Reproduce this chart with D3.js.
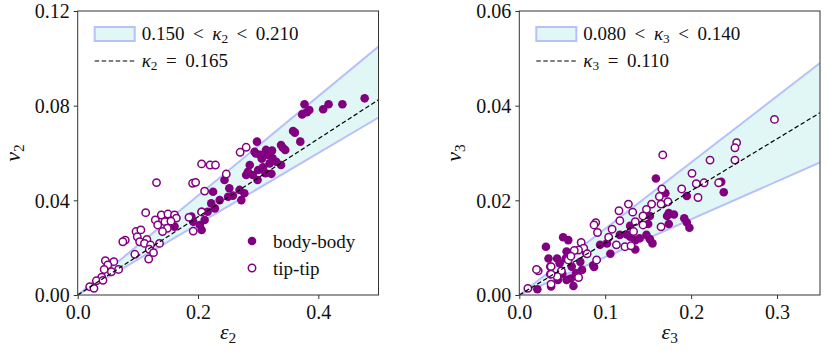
<!DOCTYPE html>
<html>
<head>
<meta charset="utf-8">
<script src="https://cdn.jsdelivr.net/npm/d3@7"></script>
<style>
  body { margin: 0; background: #fff; }
  text { font-family: "Liberation Serif", "DejaVu Serif", serif; fill: #111; }
</style>
</head>
<body>
<script>
const width = 830, height = 351;

// ---- data ----
const bodyBody2 = [
  [0.477,0.0831],[0.440,0.0806],[0.417,0.0806],[0.408,0.0785],[0.377,0.0806],[0.385,0.0782],[0.373,0.0763],[0.381,0.0772],
  [0.358,0.0693],[0.361,0.0686],[0.370,0.0648],[0.338,0.0634],[0.345,0.0613],[0.341,0.0622],
  [0.298,0.0648],[0.296,0.0598],[0.313,0.0613],[0.323,0.0610],[0.294,0.0605],[0.303,0.0592],[0.316,0.0592],[0.324,0.0578],
  [0.306,0.0576],[0.319,0.0556],[0.330,0.0563],[0.338,0.0549],[0.286,0.0549],[0.308,0.0540],[0.300,0.0528],[0.280,0.0507],
  [0.291,0.0507],[0.312,0.0515],[0.322,0.0512],[0.299,0.0486],[0.283,0.0521],
  [0.244,0.0486],[0.252,0.0451],[0.269,0.0444],[0.277,0.0430],[0.272,0.0401],[0.225,0.0436],[0.236,0.0401],[0.250,0.0415],
  [0.222,0.0387],[0.228,0.0366],[0.216,0.0352],[0.206,0.0352],[0.211,0.0317],[0.203,0.0296],[0.206,0.0275],[0.189,0.0331],
  [0.192,0.0310],[0.161,0.0289],[0.258,0.0420]
];
const tipTip2 = [
  [0.280,0.0624],[0.270,0.0603],[0.247,0.0511],[0.206,0.0554],[0.220,0.0549],[0.229,0.0549],[0.131,0.0475],[0.191,0.0472],
  [0.196,0.0476],[0.211,0.0439],[0.206,0.0351],[0.185,0.0328],[0.192,0.0270],
  [0.113,0.0348],[0.139,0.0338],[0.150,0.0342],[0.161,0.0338],[0.164,0.0325],[0.129,0.0317],[0.145,0.0310],[0.155,0.0312],
  [0.133,0.0296],[0.149,0.0282],[0.141,0.0268],[0.097,0.0268],[0.105,0.0275],[0.099,0.0246],[0.079,0.0232],[0.075,0.0225],
  [0.103,0.0225],[0.115,0.0235],[0.111,0.0218],[0.121,0.0211],[0.119,0.0193],[0.126,0.0179],[0.095,0.0172],[0.118,0.0152],
  [0.136,0.0218],[0.046,0.0145],[0.060,0.0141],[0.050,0.0127],[0.068,0.0108],[0.044,0.0108],[0.056,0.0098],[0.040,0.0075],
  [0.031,0.0060],[0.042,0.0062],[0.020,0.0035],[0.027,0.0028]
];
const bodyBody3 = [
  [0.159,0.0246],[0.170,0.0215],[0.238,0.0217],[0.235,0.0239],[0.195,0.0209],[0.192,0.0162],[0.195,0.0153],[0.198,0.0142],
  [0.180,0.0170],[0.174,0.0173],[0.174,0.0150],[0.152,0.0167],[0.150,0.0150],[0.148,0.0127],[0.152,0.0118],[0.155,0.0109],
  [0.135,0.0116],[0.135,0.0096],[0.129,0.0146],[0.125,0.0128],[0.129,0.0123],[0.117,0.0127],[0.106,0.0087],[0.102,0.0109],
  [0.094,0.0106],[0.086,0.0063],[0.087,0.0059],[0.078,0.0088],[0.071,0.0070],[0.073,0.0053],[0.066,0.0046],[0.063,0.0019],
  [0.057,0.0116],[0.051,0.0122],[0.055,0.0092],[0.054,0.0077],[0.044,0.0077],[0.034,0.0077],[0.031,0.0102],[0.047,0.0067],
  [0.036,0.0044],[0.045,0.0032],[0.055,0.0032],[0.037,0.0018],[0.021,0.0012],[0.061,0.0060],[0.036,0.0060],[0.169,0.0216],
  [0.172,0.0167],[0.140,0.0120],[0.060,0.0035],[0.050,0.0045]
];
const tipTip3 = [
  [0.297,0.0371],[0.253,0.0322],[0.251,0.0311],[0.251,0.0285],[0.222,0.0285],[0.167,0.0296],[0.201,0.0257],[0.206,0.0235],
  [0.215,0.0237],[0.232,0.0237],[0.208,0.0206],[0.189,0.0224],[0.166,0.0224],[0.163,0.0208],[0.165,0.0192],[0.173,0.0197],
  [0.154,0.0192],[0.148,0.0181],[0.127,0.0192],[0.116,0.0178],[0.132,0.0175],[0.117,0.0157],[0.135,0.0155],[0.144,0.0167],
  [0.144,0.0148],[0.165,0.0144],[0.133,0.0134],[0.108,0.0139],[0.089,0.0153],[0.091,0.0132],[0.087,0.0148],[0.104,0.0122],
  [0.113,0.0106],[0.123,0.0102],[0.130,0.0104],[0.072,0.0111],[0.075,0.0099],[0.069,0.0095],[0.064,0.0094],[0.090,0.0074],
  [0.057,0.0074],[0.060,0.0082],[0.079,0.0087],[0.037,0.0060],[0.049,0.0051],[0.044,0.0039],[0.069,0.0037],[0.037,0.0023],
  [0.037,0.0044],[0.022,0.0051],[0.020,0.0054],[0.010,0.0014]
];

const kappa2 = [0.150, 0.165, 0.210];   // low, fit, high
const kappa3 = [0.080, 0.110, 0.140];

const xTicks2 = [0, 0.2, 0.4], yTicks2 = [0, 0.04, 0.08, 0.12];
const xTicks3 = [0, 0.1, 0.2, 0.3], yTicks3 = [0, 0.02, 0.04, 0.06];

const purple = "#800080";
const bandFill = "#e0f7f6";
const bandEdge = "#b8c0fa";
const gap = "\u00a0\u2009";

const svg = d3.select("body").append("svg")
  .attr("width", width).attr("height", height);

function sub(sel, main, idx, italic) {
  sel.append("tspan").attr("font-style", italic ? "italic" : null).text(main);
  sel.append("tspan").attr("font-size", "0.7em").attr("dy", "0.25em").text(idx);
}

function panel(o) {
  const x = d3.scaleLinear().domain(o.xDomain).range([o.left, o.right]);
  const y = d3.scaleLinear().domain(o.yDomain).range([295, 11]);
  const g = svg.append("g");
  const clipId = "clip" + o.n;
  g.append("clipPath").attr("id", clipId).append("rect")
    .attr("x", o.left).attr("y", 11).attr("width", o.right - o.left).attr("height", 284);
  const plot = g.append("g").attr("clip-path", `url(#${clipId})`);

  const xs = [0, o.xDomain[1]];
  const k = o.kappa;
  plot.append("path")
    .attr("d", d3.area().x(d => x(d)).y0(d => y(k[0] * d)).y1(d => y(k[2] * d))(xs))
    .attr("fill", bandFill);
  [k[0], k[2]].forEach(kk => {
    plot.append("path")
      .attr("d", d3.line().x(d => x(d)).y(d => y(kk * d))(xs))
      .attr("fill", "none").attr("stroke", bandEdge).attr("stroke-width", 2);
  });

  plot.selectAll("circle.bb").data(o.bb).join("circle")
    .attr("class", "bb").attr("cx", d => x(d[0])).attr("cy", d => y(d[1]))
    .attr("r", 4.3).attr("fill", purple);
  plot.selectAll("circle.tt").data(o.tt).join("circle")
    .attr("class", "tt").attr("cx", d => x(d[0])).attr("cy", d => y(d[1]))
    .attr("r", 3.7).attr("fill", "#fff").attr("stroke", purple).attr("stroke-width", 1.5);

  plot.append("path")
    .attr("d", d3.line().x(d => x(d)).y(d => y(k[1] * d))(xs))
    .attr("fill", "none").attr("stroke", "#000").attr("stroke-width", 1.2)
    .attr("stroke-dasharray", "4.5,2.5");

  // axes
  const xa = g.append("g").attr("transform", "translate(0,295)")
    .call(d3.axisBottom(x).tickValues(o.xTicks).tickFormat(d3.format(".1f")).tickSize(4).tickPadding(4));
  const ya = g.append("g").attr("transform", `translate(${o.left},0)`)
    .call(d3.axisLeft(y).tickValues(o.yTicks).tickFormat(d3.format(".2f")).tickSize(4).tickPadding(4));
  [xa, ya].forEach(a => {
    a.select(".domain").remove();
    a.selectAll("line").attr("stroke", "#333").attr("stroke-width", 1);
    a.selectAll("text").attr("font-size", 20).attr("font-family", "Liberation Serif").attr("fill", "#111");
  });
  ya.selectAll("text").attr("dy", "0.34em");
  xa.selectAll("text").attr("dy", "0.8em");
  g.append("rect").attr("x", o.left).attr("y", 11)
    .attr("width", o.right - o.left).attr("height", 284)
    .attr("fill", "none").attr("stroke", "#333").attr("stroke-width", 1);

  // axis labels
  const xl = g.append("text").attr("x", (o.left + o.right) / 2).attr("y", 339)
    .attr("text-anchor", "middle").attr("font-size", 22);
  sub(xl, "ε", o.n, true);
  const yl = g.append("text")
    .attr("transform", `translate(${o.left - 58},153) rotate(-90)`)
    .attr("text-anchor", "middle").attr("font-size", 22);
  sub(yl, "v", o.n, true);

  // band/line legend
  const lx = o.left + 17;
  g.append("rect").attr("x", lx).attr("y", 27).attr("width", 40).attr("height", 14)
    .attr("fill", bandFill).attr("stroke", bandEdge).attr("stroke-width", 2);
  const t1 = g.append("text").attr("x", lx + 47).attr("y", 40).attr("font-size", 19);
  t1.append("tspan").text(d3.format(".3f")(k[0]) + gap + "<" + gap);
  t1.append("tspan").attr("font-style", "italic").text("κ");
  t1.append("tspan").attr("font-size", "0.7em").attr("dy", "0.25em").text(o.n);
  t1.append("tspan").attr("dy", "-0.18em").text(gap + "<" + gap + d3.format(".3f")(k[2]));
  g.append("line").attr("x1", lx).attr("x2", lx + 40).attr("y1", 61).attr("y2", 61)
    .attr("stroke", "#000").attr("stroke-width", 1.2).attr("stroke-dasharray", "4.5,2.5");
  const t2 = g.append("text").attr("x", lx + 47).attr("y", 67).attr("font-size", 19);
  t2.append("tspan").attr("font-style", "italic").text("κ");
  t2.append("tspan").attr("font-size", "0.7em").attr("dy", "0.25em").text(o.n);
  t2.append("tspan").attr("dy", "-0.18em").text(gap + "=" + gap + d3.format(".3f")(k[1]));

  return { g, x, y };
}

const p2 = panel({ n: 2, left: 77.7, right: 378.5, xDomain: [0, 0.5], yDomain: [0, 0.12],
  xTicks: xTicks2, yTicks: yTicks2, bb: bodyBody2, tt: tipTip2, kappa: kappa2 });
panel({ n: 3, left: 519.3, right: 820, xDomain: [0, 0.35], yDomain: [0, 0.06],
  xTicks: xTicks3, yTicks: yTicks3, bb: bodyBody3, tt: tipTip3, kappa: kappa3 });

// marker legend (left panel)
const lg = p2.g.append("g");
lg.append("circle").attr("cx", 252).attr("cy", 241).attr("r", 4.3).attr("fill", purple);
lg.append("circle").attr("cx", 252).attr("cy", 268).attr("r", 3.7)
  .attr("fill", "#fff").attr("stroke", purple).attr("stroke-width", 1.5);
lg.append("text").attr("x", 273).attr("y", 248).attr("font-size", 19).text("body-body");
lg.append("text").attr("x", 273).attr("y", 275).attr("font-size", 19).text("tip-tip");
</script>
</body>
</html>
